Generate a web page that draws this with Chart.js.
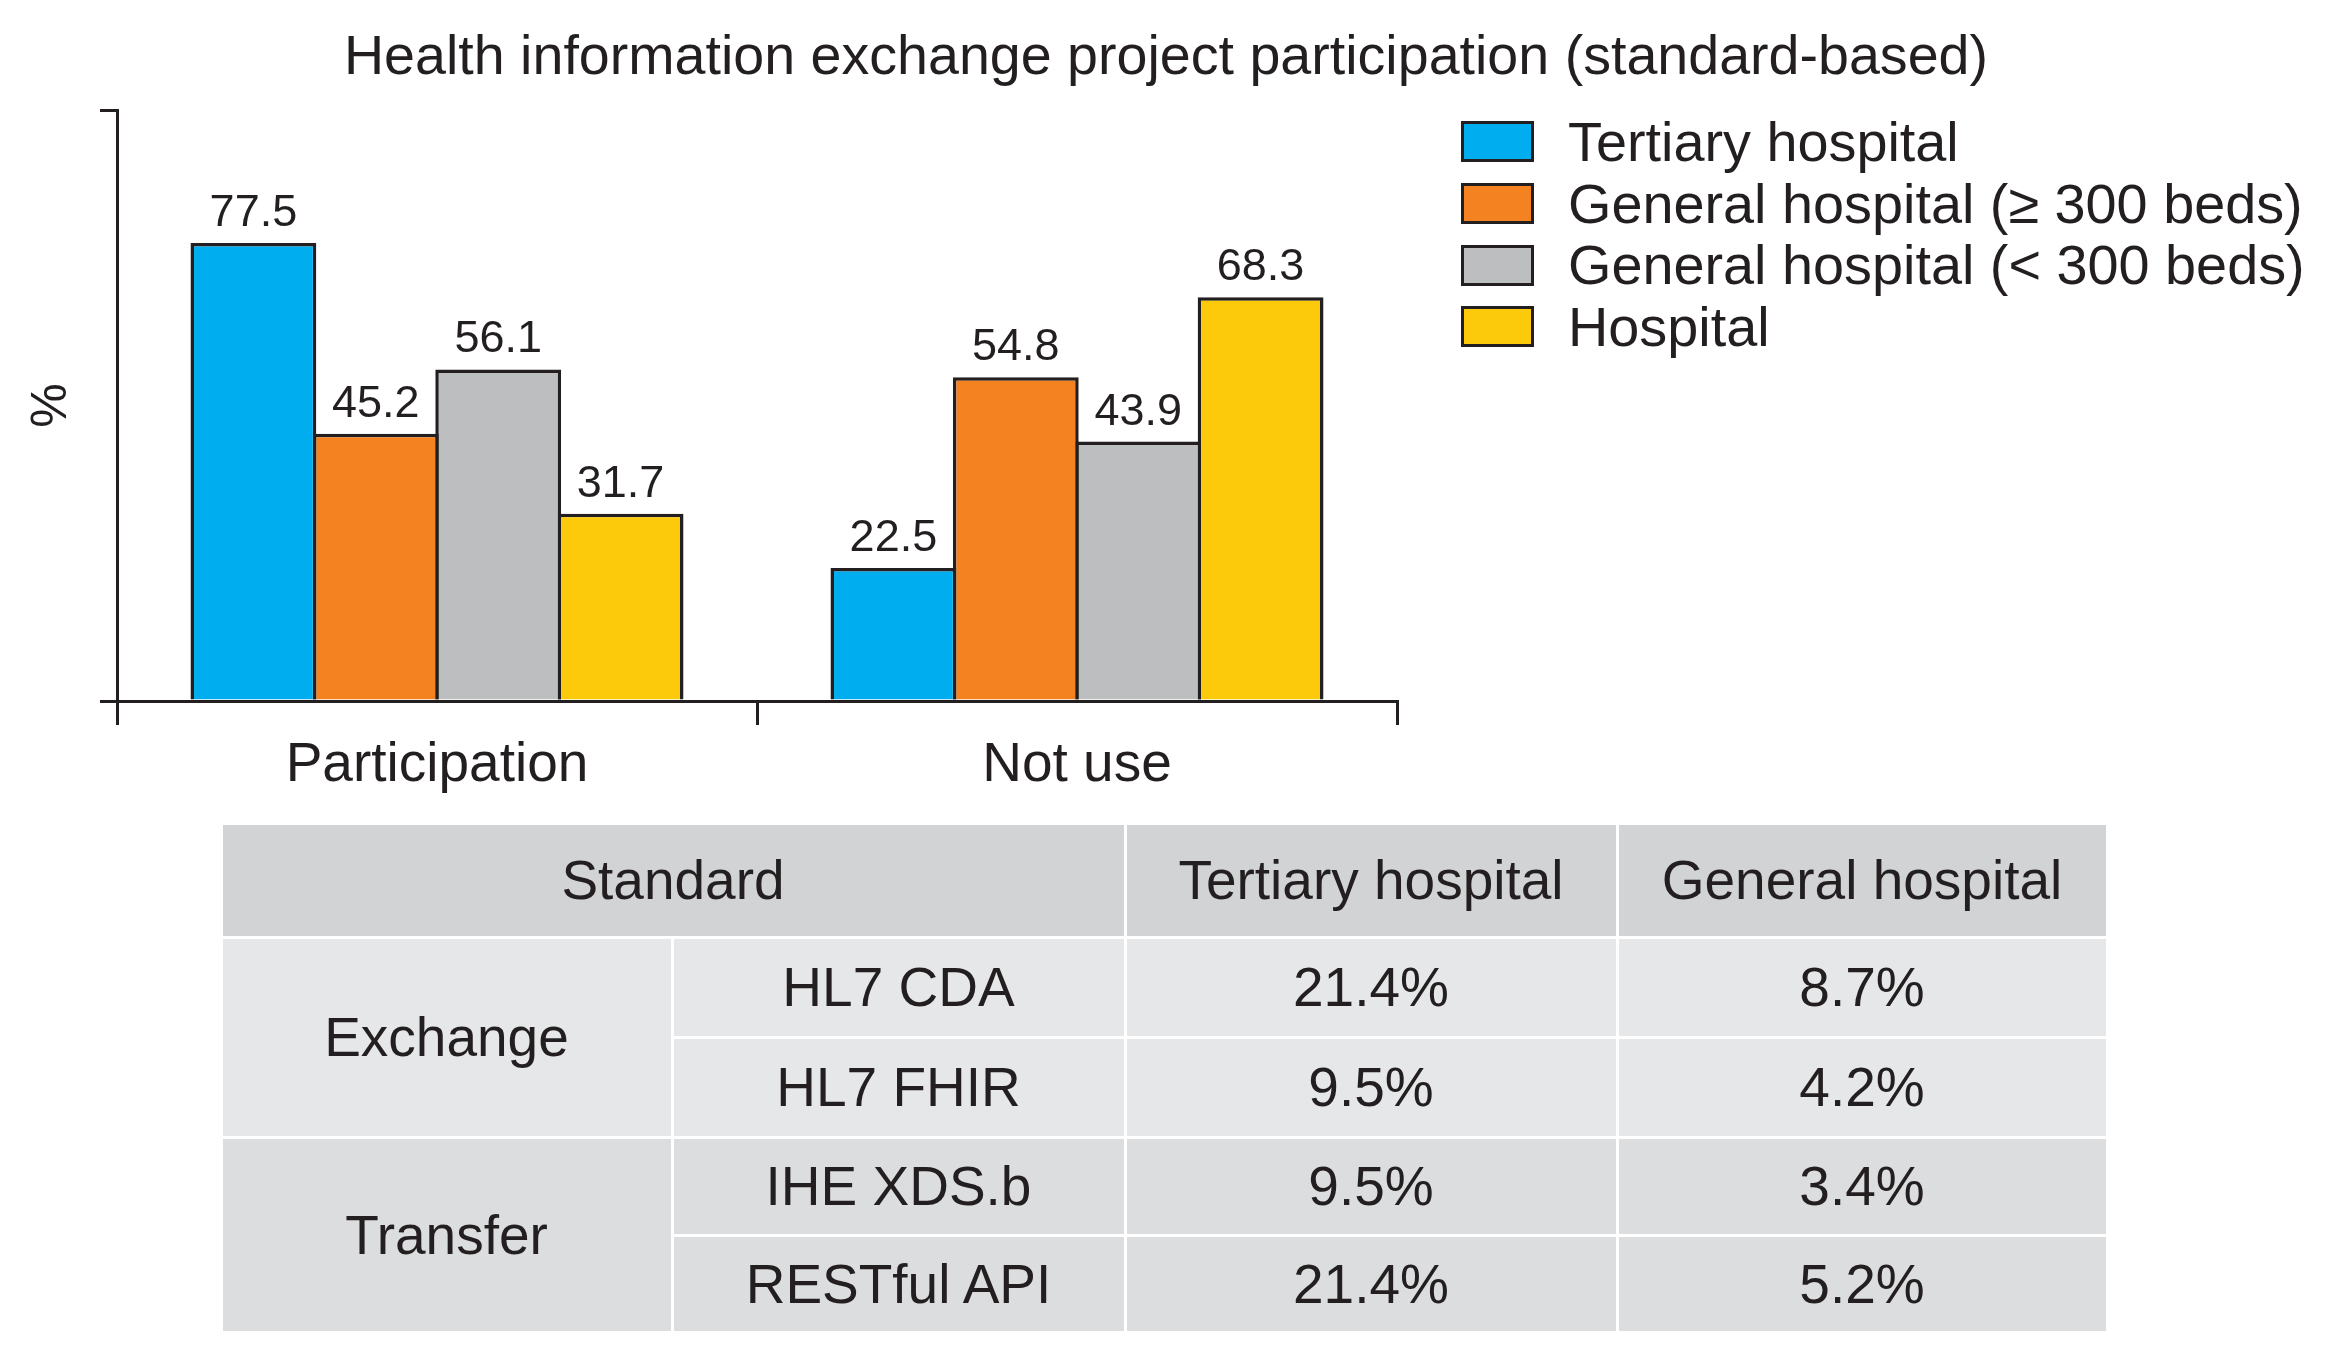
<!DOCTYPE html>
<html>
<head>
<meta charset="utf-8">
<script src="https://cdn.jsdelivr.net/npm/chart.js@4/dist/chart.umd.min.js"></script>
<style>
  html, body { margin: 0; padding: 0; background: #fff; }
  body { width: 2330px; height: 1363px; position: relative; overflow: hidden;
         font-family: "Liberation Sans", Arial, Helvetica, sans-serif; color: #231f20; }
  #title { position: absolute; left: 0; top: 22px; width: 2332px; text-align: center;
           font-size: 55.6px; line-height: 66px; white-space: nowrap; }
  #chart { position: absolute; left: 0; top: 0; }
  #legend { position: absolute; left: 1461px; top: 111px; }
  .lg-row { height: 61.7px; display: flex; align-items: center; white-space: nowrap; }
  .lg-box { width: 73px; height: 41px; box-sizing: border-box; border: 3px solid #231f20; margin-right: 34px; flex: none; }
  .lg-text { font-size: 55.8px; line-height: 56px; }
  #tbl { position: absolute; left: 219.5px; top: 821.5px; border-collapse: collapse; table-layout: fixed;
         font-size: 55px; }
  #tbl td { border: 3px solid #fff; text-align: center; vertical-align: middle; padding: 0; white-space: nowrap; }
</style>
</head>
<body>
<div id="title"></div>
<canvas id="chart" width="1420" height="812" style="width:1420px;height:812px"></canvas>
<div id="legend"></div>
<table id="tbl"></table>
<script>
// ---- data ----
const chartTitle = 'Health information exchange project participation (standard-based)';
const categories = ['Participation', 'Not use'];
const seriesNames = ['Tertiary hospital', 'General hospital (\u2265 300 beds)', 'General hospital (< 300 beds)', 'Hospital'];
const tertiaryValues = [77.5, 22.5];
const generalLargeValues = [45.2, 54.8];
const generalSmallValues = [56.1, 43.9];
const hospitalValues = [31.7, 68.3];
const yTickValues = [0, 100];
const yAxisTitle = '%';

const tableHeader = ['Standard', 'Tertiary hospital', 'General hospital'];
const standardGroups = ['Exchange', 'Transfer'];
const standardsPerGroup = [['HL7 CDA', 'HL7 FHIR'], ['IHE XDS.b', 'RESTful API']];
const tertiaryPct = [['21.4%', '9.5%'], ['9.5%', '21.4%']];
const generalPct = [['8.7%', '4.2%'], ['3.4%', '5.2%']];

// ---- styles ----
const seriesColors = ['#00aeef', '#f58220', '#bcbec0', '#fdca0b'];
const ink = '#231f20';
const FONT = '"Liberation Sans", Arial, Helvetica, sans-serif';

document.getElementById('title').textContent = chartTitle;

// legend
const legendEl = document.getElementById('legend');
seriesNames.forEach((name, i) => {
  const row = document.createElement('div'); row.className = 'lg-row';
  const box = document.createElement('div'); box.className = 'lg-box'; box.style.background = seriesColors[i];
  const txt = document.createElement('div'); txt.className = 'lg-text'; txt.textContent = name;
  row.appendChild(box); row.appendChild(txt); legendEl.appendChild(row);
});

// table
const tbl = document.getElementById('tbl');
const colWidths = [451, 453, 492, 490];
const cg = document.createElement('colgroup');
colWidths.forEach(w => { const c = document.createElement('col'); c.style.width = w + 'px'; cg.appendChild(c); });
tbl.appendChild(cg);
const headBg = '#d1d3d4';
const groupBg = ['#e6e7e8', '#dcddde'];
const rowHeights = [114, [100, 100], [98, 97]];
{
  const tr = document.createElement('tr'); tr.style.height = rowHeights[0] + 'px';
  const th0 = document.createElement('td'); th0.colSpan = 2; th0.textContent = tableHeader[0];
  const th1 = document.createElement('td'); th1.textContent = tableHeader[1];
  const th2 = document.createElement('td'); th2.textContent = tableHeader[2];
  [th0, th1, th2].forEach(td => { td.style.background = headBg; tr.appendChild(td); });
  tbl.appendChild(tr);
}
standardGroups.forEach((g, gi) => {
  standardsPerGroup[gi].forEach((s, si) => {
    const tr = document.createElement('tr'); tr.style.height = rowHeights[gi + 1][si] + 'px';
    if (si === 0) {
      const tdg = document.createElement('td'); tdg.rowSpan = standardsPerGroup[gi].length; tdg.textContent = g;
      tdg.style.background = groupBg[gi]; tr.appendChild(tdg);
    }
    [s, tertiaryPct[gi][si], generalPct[gi][si]].forEach(v => {
      const td = document.createElement('td'); td.textContent = v; td.style.background = groupBg[gi]; tr.appendChild(td);
    });
    tbl.appendChild(tr);
  });
});

// ---- chart ----
const seriesValues = [tertiaryValues, generalLargeValues, generalSmallValues, hospitalValues];

const valueLabels = {
  id: 'valueLabels',
  afterDatasetsDraw(chart) {
    const ctx = chart.ctx;
    ctx.save();
    ctx.font = '45px ' + FONT;
    ctx.fillStyle = ink;
    ctx.textAlign = 'center';
    ctx.textBaseline = 'alphabetic';
    chart.data.datasets.forEach((ds, di) => {
      const meta = chart.getDatasetMeta(di);
      meta.data.forEach((el, i) => {
        ctx.fillText(Number(ds.data[i]).toFixed(1), el.x, el.y - 17);
      });
    });
    ctx.restore();
  }
};

new Chart(document.getElementById('chart'), {
  type: 'bar',
  data: {
    labels: categories,
    datasets: seriesNames.map((name, i) => ({
      label: name,
      data: seriesValues[i],
      backgroundColor: seriesColors[i],
      borderColor: ink,
      borderWidth: 3.5,
      borderSkipped: 'start',
      categoryPercentage: 0.765,
      barPercentage: 1.028
    }))
  },
  options: {
    responsive: false,
    animation: false,
    devicePixelRatio: 1,
    layout: { padding: { left: 0, right: 23, top: 110, bottom: 5 } },
    plugins: {
      legend: { display: false },
      title: { display: false },
      tooltip: { enabled: false }
    },
    scales: {
      x: {
        grid: { display: true, drawOnChartArea: false, drawTicks: true, tickLength: 24, color: ink, lineWidth: 3, offset: true },
        border: { display: true, color: ink, width: 3 },
        ticks: { color: ink, font: { family: FONT, size: 55 }, padding: 8, maxRotation: 0 }
      },
      y: {
        min: 0, max: 100,
        afterBuildTicks: (scale) => { scale.ticks = yTickValues.map(v => ({ value: v })); },
        grid: { display: true, drawOnChartArea: false, drawTicks: true, tickLength: 17, color: ink, lineWidth: 3 },
        border: { display: true, color: ink, width: 3 },
        ticks: { display: false },
        title: { display: true, text: yAxisTitle, color: ink, font: { family: FONT, size: 50 }, padding: { top: 22, bottom: 18 } }
      }
    }
  },
  plugins: [valueLabels]
});
</script>
</body>
</html>
